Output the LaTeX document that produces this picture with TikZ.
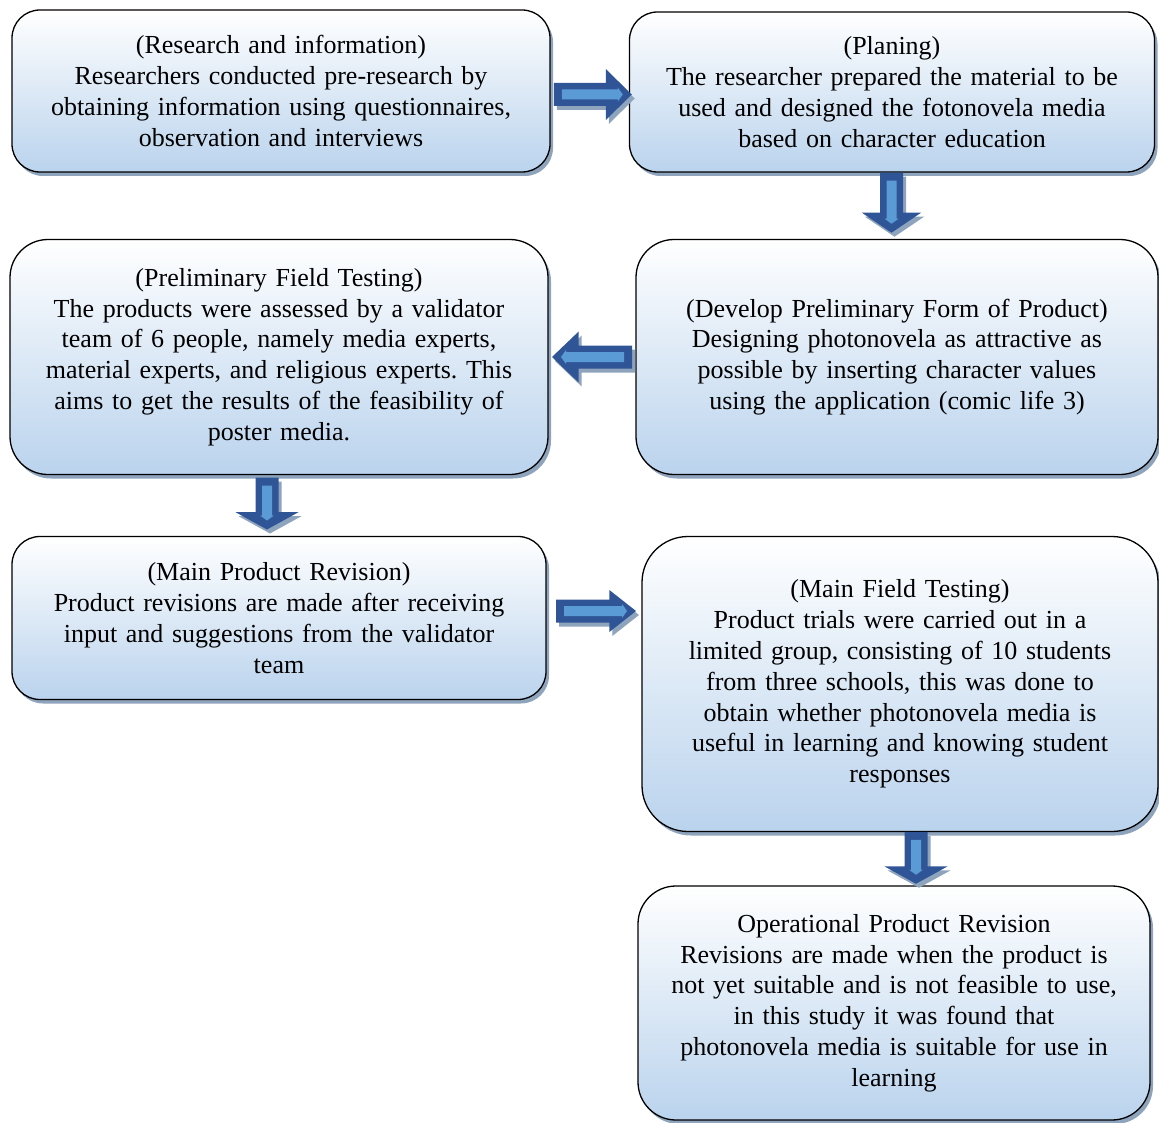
\documentclass[tikz,border=0pt]{standalone}
\usepackage{fontspec}
\setmainfont{Liberation Serif}
\usetikzlibrary{positioning,calc,shadows}
\frenchspacing

\definecolor{boxblue}{HTML}{BAD3ED}
\definecolor{shadeblue}{HTML}{8EA3BC}
\definecolor{arrowdark}{HTML}{2F5597}
\definecolor{arrowlight}{HTML}{5B9BD5}

\tikzset{
  stage/.style={draw=black,line width=1.3pt,rounded corners=28pt,
    top color=white,bottom color=boxblue,
    drop shadow={shadow xshift=3pt,shadow yshift=-4pt,fill=shadeblue,opacity=1},
    align=center,inner sep=0pt,font=\fontsize{26}{30.8}\selectfont},
}

% block arrow: #1 centre, #2 angle, #3 length, #4 half head width
\newcommand{\flowarrow}[4]{%
  \begin{scope}[shift={#1},shift={(3pt,-4pt)},rotate=#2,x=1pt,y=1pt]
    \fill[shadeblue] ({-#3/2},-11.5) -- ({#3/6},-11.5) -- ({#3/6},-#4) -- ({#3/2},0)
      -- ({#3/6},#4) -- ({#3/6},11.5) -- ({-#3/2},11.5) -- cycle;
  \end{scope}
  \begin{scope}[shift={#1},rotate=#2,x=1pt,y=1pt]
    \fill[arrowdark] ({-#3/2},-11.5) -- ({#3/6},-11.5) -- ({#3/6},-#4) -- ({#3/2},0)
      -- ({#3/6},#4) -- ({#3/6},11.5) -- ({-#3/2},11.5) -- cycle;
    \fill[arrowlight] ({-#3/2+8},-5) -- ({#3/2-14},-5) -- ({#3/2-14},-7) -- ({#3/2-9},0)
      -- ({#3/2-14},7) -- ({#3/2-14},5) -- ({-#3/2+8},5) -- cycle;
  \end{scope}}

\begin{document}
\begin{tikzpicture}
  \useasboundingbox (0,0) rectangle (1159pt,-1123pt);

  \node[stage,minimum width=538pt,minimum height=162pt,text width=520pt] (research) at (281pt,-91pt)
    {(Research and information)\\ Researchers conducted pre-research by\\
     obtaining information using questionnaires,\\ observation and interviews};
  \node[stage,minimum width=525pt,minimum height=160pt,text width=510pt] (plan) at (892pt,-92pt)
    {(Planing)\\ The researcher prepared the material to be\\
     used and designed the fotonovela media\\ based on character education};
  \node[stage,rounded corners=38pt,minimum width=538pt,minimum height=235pt,text width=520pt] (prelim) at (279pt,-357pt)
    {(Preliminary Field Testing)\\ The products were assessed by a validator\\
     team of 6 people, namely media experts,\\ material experts, and religious experts. This\\
     aims to get the results of the feasibility of\\ poster media.};
  \node[stage,rounded corners=38pt,minimum width=522pt,minimum height=235pt,text width=505pt] (develop) at (897pt,-357pt)
    {(Develop Preliminary Form of Product)\\ Designing photonovela as attractive as\\
     possible by inserting character values\\ using the application (comic life 3)};
  \node[stage,minimum width=534pt,minimum height=163pt,text width=515pt] (revision) at (279pt,-618pt)
    {(Main Product Revision)\\ Product revisions are made after receiving\\
     input and suggestions from the validator\\ team};
  \node[stage,rounded corners=46pt,minimum width=516pt,minimum height=295pt,text width=500pt] (maintest) at (900pt,-684pt)
    {(Main Field Testing)\\ Product trials were carried out in a\\
     limited group, consisting of 10 students\\ from three schools, this was done to\\
     obtain whether photonovela media is\\ useful in learning and knowing student\\ responses};
  \node[stage,rounded corners=38pt,minimum width=512pt,minimum height=234pt,text width=500pt] (operational) at (894pt,-1003pt)
    {Operational Product Revision\\ Revisions are made when the product is\\
     not yet suitable and is not feasible to use,\\ in this study it was found that\\
     photonovela media is suitable for use in\\ learning};

  % arrows between stages
  \flowarrow{($(research.east)!.5!(plan.west)+(3pt,-3pt)$)}{0}{78}{25.5}
  \flowarrow{($(plan.south)!.5!(develop.north)+(-3pt,3pt)$)}{-90}{60}{29.5}
  \flowarrow{($(prelim.east)!.5!(develop.west)$)}{180}{80}{25.5}
  \flowarrow{($(prelim.south)!.5!(revision.north)+(-12pt,2pt)$)}{-90}{52}{31.5}
  \flowarrow{($(revision.east)!.5!(revision.east-|maintest.west)+(2pt,7pt)$)}{0}{80}{21}
  \flowarrow{($(maintest.south)!.5!(operational.north)+(19pt,1pt)$)}{-90}{52}{31.5}
\end{tikzpicture}
\end{document}
